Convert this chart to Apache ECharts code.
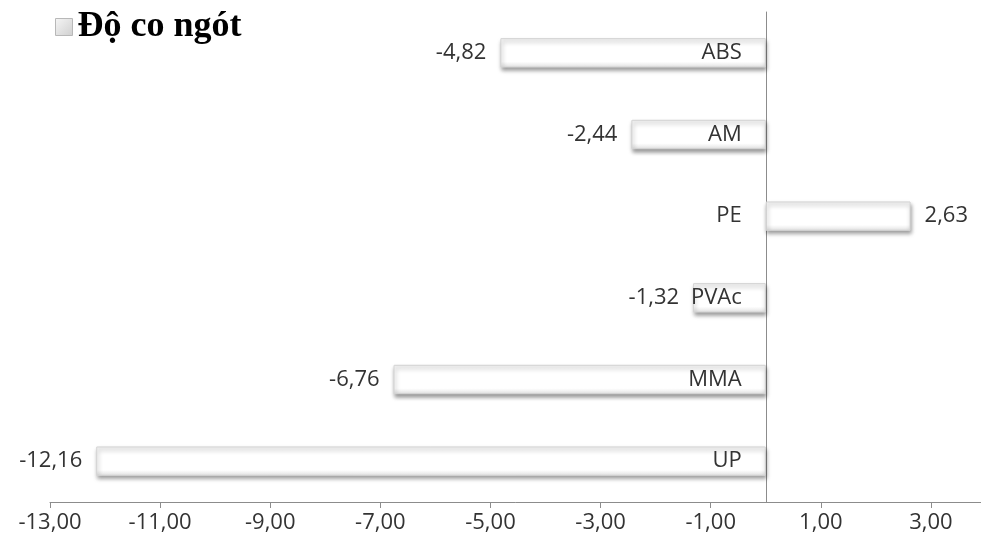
<!DOCTYPE html>
<html>
<head>
<meta charset="utf-8">
<script src="https://cdn.jsdelivr.net/npm/echarts@6/dist/echarts.min.js"></script>
<style>
  html, body { margin: 0; padding: 0; background: #fff; }
  #chart { width: 981px; height: 547px; }
</style>
</head>
<body>
<div id="chart"></div>
<script>
// Shrinkage of each material (%)
const materials = ['ABS', 'AM', 'PE', 'PVAc', 'MMA', 'UP'];
const shrinkage = [-4.82, -2.44, 2.63, -1.32, -6.76, -12.16];
const seriesName = 'Độ co ngót';

const fmt = v => v.toFixed(2).replace('.', ',');
const textColor = '#333333';
const labelFont = '"Open Sans", "Liberation Sans", sans-serif';
const labelSize = 22;

const chart = echarts.init(document.getElementById('chart'));
chart.setOption({
  animation: false,
  legend: {
    left: 50,
    top: 4,
    itemWidth: 17,
    itemHeight: 17,
    itemGap: 7,
    data: [{
      name: seriesName,
      icon: 'rect',
      itemStyle: {
        color: new echarts.graphic.LinearGradient(0, 0, 1, 1, [
          { offset: 0, color: '#f6f6f6' },
          { offset: 1, color: '#cfcfcf' }
        ]),
        borderColor: '#b8b8b8',
        borderWidth: 1,
        shadowBlur: 0,
        shadowOffsetX: 0,
        shadowOffsetY: 0
      }
    }],
    textStyle: {
      fontFamily: '"Liberation Serif", "DejaVu Serif", serif',
      fontWeight: 'bold',
      fontSize: 36,
      color: '#000'
    }
  },
  grid: { left: 50, right: -5, top: 12, bottom: 45, outerBoundsMode: 'none', containLabel: false },
  xAxis: {
    type: 'value',
    min: -13,
    max: 4,
    interval: 2,
    splitLine: { show: false },
    axisLine: { show: true, lineStyle: { color: '#8c8c8c', width: 1 } },
    axisTick: { show: true, length: 6, lineStyle: { color: '#8c8c8c' } },
    axisLabel: {
      showMaxLabel: false,
      margin: 10,
      fontSize: labelSize,
      fontFamily: labelFont,
      color: textColor,
      formatter: fmt
    }
  },
  yAxis: {
    type: 'category',
    inverse: true,
    data: materials,
    axisLine: { show: true, onZero: true, lineStyle: { color: '#8c8c8c', width: 1 } },
    axisTick: { show: false },
    axisLabel: { show: false }
  },
  series: [{
    name: seriesName,
    type: 'bar',
    barWidth: '36%',
    data: shrinkage.map(v => ({
      value: v,
      label: { position: v < 0 ? 'left' : 'right' }
    })),
    itemStyle: {
      color: new echarts.graphic.LinearGradient(0, 0, 0, 1, [
        { offset: 0, color: '#f2f2f2' },
        { offset: 0.15, color: '#ffffff' },
        { offset: 0.8, color: '#ffffff' },
        { offset: 1, color: '#e0e0e0' }
      ]),
      borderColor: '#d4d4d4',
      borderWidth: 1,
      shadowColor: 'rgba(0,0,0,0.4)',
      shadowBlur: 4,
      shadowOffsetX: 1,
      shadowOffsetY: 3
    },
    label: {
      show: true,
      distance: 14,
      fontSize: labelSize,
      fontFamily: labelFont,
      color: textColor,
      formatter: p => fmt(p.value)
    }
  }, {
    // category names drawn beside the zero line
    name: 'categoryNames',
    type: 'scatter',
    z: 5,
    symbolSize: 0,
    silent: true,
    legendHoverLink: false,
    itemStyle: { opacity: 1 },
    data: materials.map(() => 0),
    label: {
      show: true,
      position: 'left',
      distance: 24,
      fontSize: labelSize,
      fontFamily: labelFont,
      color: textColor,
      opacity: 1,
      formatter: p => materials[p.dataIndex]
    }
  }]
});
</script>
</body>
</html>
